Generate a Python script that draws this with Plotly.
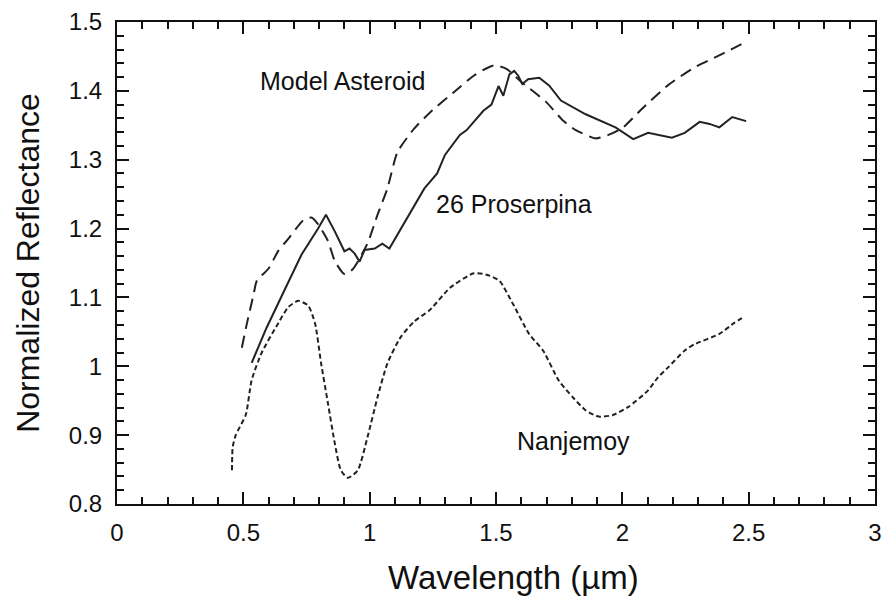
import plotly.graph_objects as go

# Model Asteroid (long dashed)
model_x = [0.494, 0.514, 0.541, 0.553, 0.60, 0.639, 0.68, 0.737, 0.77, 0.796, 0.835, 0.862, 0.90, 0.933,
           0.992, 1.031, 1.07, 1.11, 1.176, 1.24, 1.333, 1.412, 1.49, 1.541, 1.60, 1.698, 1.765, 1.816,
           1.894, 1.945, 2.0, 2.078, 2.18, 2.286, 2.392, 2.482]
model_y = [1.027, 1.062, 1.105, 1.124, 1.142, 1.168, 1.186, 1.212, 1.216, 1.206, 1.182, 1.153, 1.134, 1.141,
           1.179, 1.22, 1.258, 1.311, 1.345, 1.369, 1.398, 1.422, 1.437, 1.432, 1.413, 1.384, 1.357, 1.343,
           1.331, 1.336, 1.346, 1.374, 1.408, 1.434, 1.453, 1.470]

# 26 Proserpina (solid)
pros_x = [0.533, 0.592, 0.666, 0.73, 0.796, 0.827, 0.862, 0.90, 0.92, 0.94, 0.96, 0.98, 1.02, 1.05, 1.078,
          1.11, 1.161, 1.216, 1.267, 1.298, 1.357, 1.384, 1.412, 1.45, 1.482, 1.51, 1.529, 1.553, 1.572,
          1.588, 1.604, 1.627, 1.671, 1.71, 1.757, 1.855, 1.973, 2.043, 2.102, 2.196, 2.247, 2.306,
          2.345, 2.384, 2.435, 2.49]
pros_y = [1.005, 1.056, 1.113, 1.162, 1.20, 1.22, 1.196, 1.167, 1.171, 1.164, 1.152, 1.169, 1.171, 1.178, 1.171,
          1.191, 1.225, 1.258, 1.28, 1.307, 1.336, 1.343, 1.355, 1.371, 1.38, 1.407, 1.393, 1.424, 1.429,
          1.422, 1.41, 1.417, 1.419, 1.408, 1.386, 1.366, 1.347, 1.33, 1.339, 1.332, 1.339, 1.355,
          1.352, 1.347, 1.362, 1.356]

# Nanjemoy (short dashed)
nanj_x = [0.455, 0.458, 0.47, 0.51, 0.533, 0.573, 0.639, 0.678, 0.718, 0.757, 0.784, 0.808, 0.835, 0.862,
          0.886, 0.914, 0.953, 0.992, 1.031, 1.07, 1.122, 1.176, 1.239, 1.318, 1.412, 1.463, 1.514, 1.568,
          1.631, 1.686, 1.749, 1.804, 1.855, 1.906, 1.961, 2.024, 2.102, 2.141, 2.18, 2.247, 2.286, 2.384,
          2.443, 2.482]
nanj_y = [0.849, 0.883, 0.900, 0.930, 0.980, 1.020, 1.063, 1.086, 1.095, 1.088, 1.062, 1.004, 0.946, 0.888,
          0.849, 0.838, 0.849, 0.898, 0.955, 1.004, 1.042, 1.065, 1.082, 1.114, 1.135, 1.133, 1.124, 1.09,
          1.047, 1.023, 0.979, 0.955, 0.936, 0.927, 0.929, 0.941, 0.965, 0.984, 0.998, 1.023, 1.032, 1.047,
          1.063, 1.072]

labels = ["Model Asteroid", "26 Proserpina", "Nanjemoy"]
label_x = [0.894, 1.573, 1.808]
label_y = [1.414, 1.236, 0.892]

FONT = "Liberation Sans, Arial, Helvetica, sans-serif"

fig = go.Figure()
fig.add_trace(go.Scatter(x=model_x, y=model_y, mode="lines", name=labels[0],
                         line=dict(color="#222222", width=2, dash="12px,7px", shape="spline", smoothing=0.6)))
fig.add_trace(go.Scatter(x=pros_x, y=pros_y, mode="lines", name=labels[1],
                         line=dict(color="#222222", width=2)))
fig.add_trace(go.Scatter(x=nanj_x, y=nanj_y, mode="lines", name=labels[2],
                         line=dict(color="#222222", width=2, dash="5px,3px", shape="spline", smoothing=0.6)))

for t, xx, yy in zip(labels, label_x, label_y):
    fig.add_annotation(x=xx, y=yy, text=t, showarrow=False,
                       font=dict(family=FONT, size=25, color="#111111"))

# x-axis title (placed slightly right of centre, as in the original)
fig.add_annotation(xref="paper", yref="paper", x=0.523, y=-0.1526, xanchor="center", yanchor="middle",
                   text="Wavelength (µm)", showarrow=False,
                   font=dict(family=FONT, size=33, color="#111111"))

axis_common = dict(showline=True, linewidth=2, linecolor="#111111", mirror="ticks",
                   ticks="inside", ticklen=12, tickwidth=1.5, tickcolor="#111111",
                   showgrid=False, zeroline=False,
                   tickfont=dict(family=FONT, size=24, color="#111111"))

fig.update_xaxes(range=[0, 3], dtick=0.5, tick0=0,
                 minor=dict(dtick=0.1, ticks="inside", ticklen=7, tickwidth=1.5, tickcolor="#111111", showgrid=False),
                 ticklabelstandoff=6,
                 **axis_common)
fig.update_yaxes(range=[0.8, 1.5], dtick=0.1, tick0=0.8,
                 minor=dict(dtick=0.02, ticks="inside", ticklen=7, tickwidth=1.5, tickcolor="#111111", showgrid=False),
                 title=dict(text="Normalized Reflectance", font=dict(family=FONT, size=32, color="#111111"), standoff=20),
                 ticklabelstandoff=8,
                 **axis_common)

fig.update_layout(width=890, height=601, showlegend=False,
                  plot_bgcolor="white", paper_bgcolor="white",
                  margin=dict(l=117, r=8, t=19, b=97))

fig.write_html("out.html")
